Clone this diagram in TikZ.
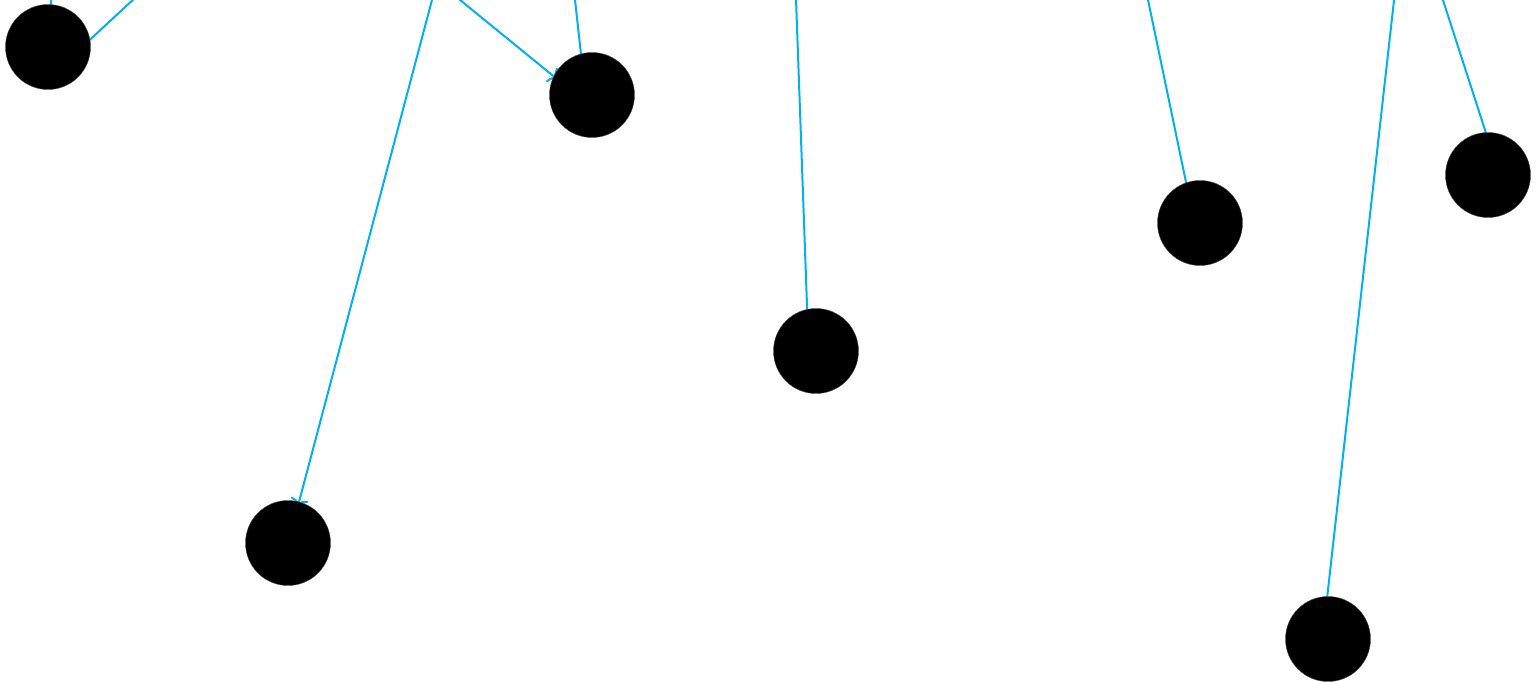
\documentclass[tikz,border=0pt]{standalone}
\usetikzlibrary{arrows.meta}
\pgfdeclarelayer{bg}
\pgfsetlayers{bg,main}
\definecolor{edgecyan}{RGB}{0,176,240}
\begin{document}
\begin{tikzpicture}[x=1bp,y=-1bp,
  dot/.style={circle,fill=black,draw=black!70,line width=0.4bp,minimum size=85bp,inner sep=0pt},
  edge/.style={draw=edgecyan,line width=2bp,shorten >=-10bp},
  arr/.style={draw=edgecyan,line width=2bp,-{To[length=7bp,width=18bp]},shorten >=-4bp}]
\useasboundingbox (0,0) rectangle (1536,682);
\clip (0,0) rectangle (1536,682);
\node[dot] (A) at (48,47) {};
\node[dot] (B) at (592,95) {};
\node[dot] (C) at (816,351) {};
\node[dot] (D) at (1200,223) {};
\node[dot] (E) at (1488,175) {};
\node[dot] (F) at (288,543) {};
\node[dot] (G) at (1328,639) {};
\coordinate (sA1) at (54,-40);
\coordinate (sA2) at (176,-40);
\coordinate (sB1) at (411,-40);
\coordinate (sB2) at (570.6,-40);
\coordinate (sC) at (794.6,-40);
\coordinate (sD) at (1139.7,-40);
\coordinate (sE) at (1430,-40);
\coordinate (sF) at (442.6,-40);
\coordinate (sG) at (1398.5,-40);
\begin{pgfonlayer}{bg}
\draw[edge] (sA1) -- (A.86);
\draw[edge] (sA2) -- (A.10);
\draw[arr] (sB1) -- (B.154);
\draw[edge] (sB2) -- (B.105);
\draw[edge] (sC) -- (C.102);
\draw[edge] (sD) -- (D.109);
\draw[edge] (sE) -- (E.93);
\draw[arr] (sF) -- (F.75);
\draw[edge] (sG) -- (G.91);
\end{pgfonlayer}
\end{tikzpicture}
\end{document}
